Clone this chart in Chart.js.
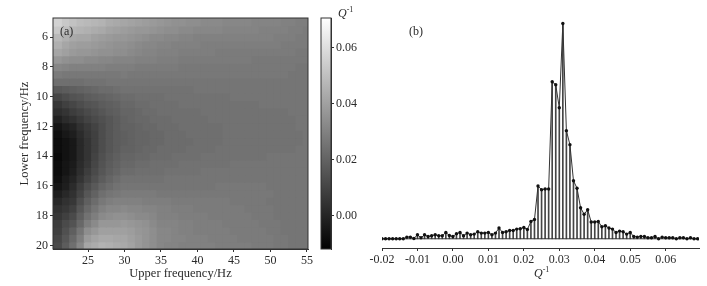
<!DOCTYPE html>
<html>
<head>
<meta charset="utf-8">
<script src="https://cdn.jsdelivr.net/npm/chart.js@4"></script>
<style>
    html, body { margin: 0; padding: 0; background: #fff; overflow: hidden; }
    body { width: 707px; height: 286px; position: relative; font-family: "Liberation Serif", serif; color: #2a2a2a; }
    canvas { position: absolute; top: 0; }
    .note { position: absolute; font-size: 12px; line-height: 14px; white-space: nowrap; }
    .note sup { font-size: 8px; line-height: 0; }
</style>
</head>
<body>
<canvas id="heatmap" width="320" height="286" style="left:0"></canvas>
<canvas id="colorbar" width="60" height="286" style="left:310px"></canvas>
<canvas id="histogram" width="347" height="286" style="left:360px"></canvas>
<div class="note" style="left:60px;top:24px">(a)</div>
<div class="note" style="left:409px;top:24px">(b)</div>
<div class="note" style="left:338px;top:6px"><i>Q</i><sup>-1</sup></div>
<div class="note" style="left:534px;top:266px"><i>Q</i><sup>-1</sup></div>
<script>
// panel (a): columns are upper frequency, rows are lower frequency, cells in Q^-1 x 1000
const upperFreq = [20,21,22,23,24,25,26,27,28,29,30,31,32,33,34,35,36,37,38,39,40,41,42,43,44,45,46,47,48,49,50,51,52,53,54,55];
const lowerFreq = [5,5.5,6,6.5,7,7.5,8,8.5,9,9.5,10,10.5,11,11.5,12,12.5,13,13.5,14,14.5,15,15.5,16,16.5,17,17.5,18,18.5,19,19.5,20];
const heatRows = [
    [56,56,53,51,49,48,47,46,44,43,42,41,40,39,38,37,36,35,35,34,34,33,33,33,32,32,32,32,31,31,31,31,30,30,29,29],
    [53,53,50,47,46,45,44,43,41,40,39,38,37,37,36,35,34,34,33,33,32,32,32,32,31,31,31,31,31,30,30,30,30,29,29,28],
    [48,48,45,43,42,42,40,39,38,37,37,36,35,34,33,33,32,32,31,31,30,30,30,30,30,30,30,30,30,30,30,29,29,29,28,28],
    [45,45,42,40,39,39,38,37,36,35,35,34,33,32,32,31,31,30,30,30,30,29,29,29,29,29,29,29,29,29,29,29,28,28,28,28],
    [42,42,40,38,37,37,36,35,35,34,34,33,32,31,31,30,30,30,29,29,29,29,29,28,28,28,28,28,28,28,28,28,28,28,27,27],
    [37,37,35,34,34,33,33,32,32,31,31,31,30,30,30,29,29,29,28,28,28,28,28,28,28,28,28,28,27,27,27,27,27,27,27,27],
    [32,32,31,30,30,30,30,30,29,29,29,29,28,28,28,28,28,28,27,27,27,27,27,27,27,27,27,27,27,27,27,27,27,27,26,26],
    [28,28,27,27,27,27,27,27,27,27,28,27,27,27,27,27,27,27,27,27,27,27,27,27,27,27,27,27,27,27,27,27,27,26,26,26],
    [24,24,24,24,24,25,25,25,26,26,26,26,26,26,26,26,26,26,26,26,26,26,26,26,26,26,26,26,26,26,26,26,26,26,26,26],
    [17,17,18,19,20,21,22,23,23,24,25,25,25,25,25,25,25,25,25,25,26,26,26,26,26,26,26,26,26,26,26,26,26,26,26,26],
    [11,11,13,15,16,18,19,20,21,22,23,23,24,24,24,24,25,25,25,25,25,25,25,25,25,26,26,26,26,26,26,26,26,26,26,26],
    [6,6,9,11,13,15,16,18,19,20,22,22,23,23,24,24,24,24,25,25,25,25,25,25,25,25,25,25,25,26,26,26,26,26,26,26],
    [3,3,5,8,10,12,14,16,18,19,21,21,22,23,23,24,24,24,24,24,24,25,25,25,25,25,25,25,25,25,25,25,25,26,26,26],
    [-1,-1,2,4,7,10,12,14,16,18,20,21,22,22,23,23,23,24,24,24,24,24,25,25,25,25,25,25,25,25,25,25,25,25,26,26],
    [-5,-5,-2,0,4,7,10,13,16,18,20,20,21,22,22,23,23,23,24,24,24,24,24,24,25,25,25,25,25,25,25,25,25,25,26,26],
    [-7,-7,-4,-2,2,6,9,13,16,18,19,20,21,21,22,22,23,23,23,24,24,24,24,24,25,25,25,25,25,25,25,25,25,25,25,26],
    [-8,-8,-6,-4,1,5,9,13,16,18,19,20,21,21,22,22,23,23,23,23,24,24,24,24,25,25,25,25,25,25,25,25,25,25,25,26],
    [-8,-8,-6,-4,1,5,9,13,16,18,20,20,21,22,22,23,23,23,23,24,24,24,24,25,25,25,25,25,25,25,25,25,25,25,26,26],
    [-9,-9,-6,-4,1,5,10,14,17,19,21,21,22,22,23,23,23,24,24,24,24,25,25,25,25,25,25,25,25,25,26,26,26,26,26,26],
    [-8,-8,-5,-3,2,6,11,15,18,20,22,22,23,23,24,24,24,24,25,25,25,25,25,25,25,26,26,26,26,26,26,26,26,26,26,26],
    [-8,-8,-5,-2,3,8,12,16,19,21,23,23,24,24,24,24,25,25,25,25,25,26,26,26,26,26,26,26,26,26,26,26,26,26,26,26],
    [-7,-7,-3,0,5,10,14,18,21,23,25,25,25,25,25,25,26,26,26,26,26,26,26,26,26,26,26,26,26,26,26,26,26,26,26,26],
    [-5,-5,-2,2,8,13,17,21,23,25,26,26,26,26,26,26,26,26,26,26,26,26,26,27,27,27,27,27,27,27,26,26,26,26,26,26],
    [-2,-2,1,4,10,16,20,24,26,27,28,28,28,28,28,27,27,27,27,27,27,27,27,27,27,27,27,27,27,27,27,26,26,26,26,26],
    [1,1,4,6,13,19,23,27,29,30,30,30,30,29,29,29,29,28,28,28,28,28,28,28,28,27,27,27,27,27,26,26,26,26,26,26],
    [4,4,6,9,16,22,26,30,32,32,33,32,32,31,31,30,30,29,29,29,28,28,28,28,28,28,28,27,27,27,27,26,26,26,26,26],
    [6,6,9,12,19,25,29,33,34,35,35,34,33,33,32,30,30,30,29,29,29,29,28,28,28,28,28,28,27,27,27,26,26,26,26,26],
    [8,8,12,15,22,29,33,37,37,37,38,37,36,35,33,31,31,31,30,30,29,29,29,29,28,28,28,28,28,27,27,27,26,26,26,26],
    [9,9,14,19,26,34,37,40,40,40,40,39,37,36,34,32,32,31,30,30,29,29,29,29,29,28,28,28,28,28,27,27,26,26,26,26],
    [11,11,16,22,29,38,41,43,43,42,42,40,38,36,34,32,32,31,31,30,30,30,29,29,29,29,28,28,28,28,28,27,27,26,26,26],
    [12,12,18,24,32,42,44,46,45,44,43,41,38,36,34,32,31,31,30,30,30,30,30,29,29,29,29,29,28,28,28,27,27,26,26,26]
];
const upperTicks = [25,30,35,40,45,50,55];
const lowerTicks = [6,8,10,12,14,16,18,20];

// colour bar
const cbarRange = [-0.0118, 0.0707];
const cbarTicks = [0, 0.02, 0.04, 0.06];

// panel (b): bin centres in Q^-1 and bar heights
const qBins = [-0.020,-0.019,-0.018,-0.017,-0.016,-0.015,-0.014,-0.013,-0.012,-0.011,
    -0.010,-0.009,-0.008,-0.007,-0.006,-0.005,-0.004,-0.003,-0.002,-0.001,
    0.000,0.001,0.002,0.003,0.004,0.005,0.006,0.007,0.008,0.009,
    0.010,0.011,0.012,0.013,0.014,0.015,0.016,0.017,0.018,0.019,
    0.020,0.021,0.022,0.023,0.024,0.025,0.026,0.027,0.028,0.029,
    0.030,0.031,0.032,0.033,0.034,0.035,0.036,0.037,0.038,0.039,
    0.040,0.041,0.042,0.043,0.044,0.045,0.046,0.047,0.048,0.049,
    0.050,0.051,0.052,0.053,0.054,0.055,0.056,0.057,0.058,0.059,
    0.060,0.061,0.062,0.063,0.064,0.065,0.066,0.067,0.068,0.069];
const qCounts = [0,0,0,0,0,0,0,1.7,1.7,0.3,
    4,1,4,2.3,3,4,3,3,6.3,3.3,
    2.3,5,6.3,3,5.7,4,4.7,7,5.7,5.7,
    6.3,4,5.7,10.7,6.3,7,8.3,8.3,9.7,10,
    11.3,9.3,17.3,19.3,52.7,49,49.7,49.7,156.8,153.8,
    130.8,215,108,94,58,50.5,31,24.5,29,16.7,
    16.7,17.3,12,13,10.7,9.7,6.3,7.7,7,4.7,
    6.3,2.3,1.7,2.3,2.3,1,1,2.3,0,1.7,
    1,1,1,0,1,1,0,1,0,0];
const qTicks = [-0.02,-0.01,0,0.01,0.02,0.03,0.04,0.05,0.06];

const inkColour = '#2a2a2a';
const tickFont = { family: '"Liberation Serif"', size: 12 };
const titleFont = { family: '"Liberation Serif"', size: 12.5 };

Chart.defaults.animation = false;
Chart.defaults.responsive = false;
Chart.defaults.color = inkColour;
Chart.defaults.font = tickFont;
Chart.defaults.plugins.legend.display = false;
Chart.defaults.plugins.tooltip.enabled = false;

const frame = {
    id: 'frame',
    afterDatasetsDraw(chart) {
        const { ctx, chartArea: a } = chart;
        ctx.save();
        ctx.strokeStyle = '#333';
        ctx.lineWidth = 1;
        ctx.strokeRect(a.left, a.top, a.right - a.left, a.bottom - a.top);
        ctx.restore();
    }
};

const axisStyle = {
    grid: { display: true, drawOnChartArea: false, drawTicks: true, tickLength: 3, tickColor: '#333', offset: false },
    border: { display: true, color: '#333' }
};

const useTicks = (list) => (scale) => {
    scale.ticks = list.map(v => ({ value: v }));
};

const qToGrey = (v) => {
    const t = (v / 1000 - cbarRange[0]) / (cbarRange[1] - cbarRange[0]);
    const g = Math.round(Math.max(0, Math.min(1, t)) * 255);
    return `rgb(${g},${g},${g})`;
};

new Chart(document.getElementById('heatmap'), {
    type: 'bar',
    data: {
        datasets: heatRows.map((row, r) => ({
            data: row.map((v, c) => ({ x: upperFreq[c], y: [lowerFreq[r] - 0.25, lowerFreq[r] + 0.25] })),
            backgroundColor: row.map(qToGrey),
            borderWidth: 0,
            inflateAmount: 0.6,
            grouped: false,
            barPercentage: 1,
            categoryPercentage: 1
        }))
    },
    options: {
        layout: { padding: { left: 15, right: 12, top: 18, bottom: 3 } },
        scales: {
            x: {
                ...axisStyle,
                type: 'linear',
                offset: false,
                min: 20.2,
                max: 55.15,
                afterBuildTicks: useTicks(upperTicks),
                afterFit: (s) => { s.height = 34; },
                ticks: { autoSkip: false, maxRotation: 0, padding: 2 },
                title: { display: true, text: 'Upper frequency/Hz', font: titleFont, padding: { top: 0, bottom: 2 } }
            },
            y: {
                ...axisStyle,
                type: 'linear',
                reverse: true,
                min: 4.72,
                max: 20.24,
                afterBuildTicks: useTicks(lowerTicks),
                afterFit: (s) => { s.width = 38; },
                ticks: { autoSkip: false, padding: 2 },
                title: { display: true, text: 'Lower frequency/Hz', font: titleFont, padding: { top: 2, bottom: 0 } }
            }
        }
    },
    plugins: [frame]
});

const cbarFill = (ctx) => {
    const area = ctx.chart.chartArea;
    if (!area) return '#777';
    const g = ctx.chart.ctx.createLinearGradient(0, area.bottom, 0, area.top);
    g.addColorStop(0, '#000');
    g.addColorStop(1, '#fff');
    return g;
};

new Chart(document.getElementById('colorbar'), {
    type: 'bar',
    data: {
        labels: ['Q'],
        datasets: [{ data: [cbarRange], backgroundColor: cbarFill, barPercentage: 1, categoryPercentage: 1, borderWidth: 0 }]
    },
    options: {
        layout: { padding: { left: 11, right: 0, top: 18, bottom: 37 } },
        scales: {
            x: { display: false },
            y: {
                ...axisStyle,
                type: 'linear',
                position: 'right',
                min: cbarRange[0],
                max: cbarRange[1],
                afterBuildTicks: useTicks(cbarTicks),
                afterFit: (s) => { s.width = 39; },
                ticks: { autoSkip: false, padding: 2, callback: (v) => v.toFixed(2) }
            }
        }
    },
    plugins: [frame]
});

new Chart(document.getElementById('histogram'), {
    type: 'bar',
    data: {
        datasets: [
            {
                type: 'line',
                data: qBins.map((q, i) => ({ x: q, y: qCounts[i] })),
                borderColor: '#333',
                borderWidth: 1,
                backgroundColor: '#111',
                pointRadius: 1.7,
                pointBorderWidth: 0,
                tension: 0
            },
            {
                type: 'line',
                data: [{ x: -0.02, y: 0 }, { x: 0.0694, y: 0 }],
                borderColor: '#333',
                borderWidth: 1,
                pointRadius: 0
            },
            {
                data: qBins.map((q, i) => ({ x: q, y: qCounts[i] })),
                backgroundColor: '#444',
                barThickness: 1,
                borderWidth: 0
            }
        ]
    },
    options: {
        layout: { padding: { left: 22, right: 8, top: 18, bottom: 3 } },
        scales: {
            x: {
                ...axisStyle,
                type: 'linear',
                offset: false,
                min: -0.02,
                max: 0.0694,
                afterBuildTicks: useTicks(qTicks),
                afterFit: (s) => { s.height = 35; },
                ticks: { autoSkip: false, maxRotation: 0, padding: 2, callback: (v) => v.toFixed(2) }
            },
            y: { display: false, min: -9.2, max: 220.5 }
        }
    }
});
</script>
</body>
</html>
